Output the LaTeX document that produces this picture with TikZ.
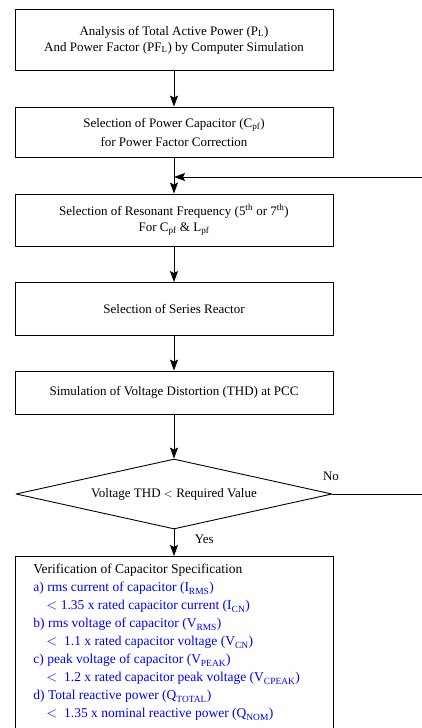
\documentclass[tikz,border=0pt]{standalone}
\usepackage{fontspec}
\setmainfont{Liberation Serif}
\usetikzlibrary{shapes.geometric,arrows.meta}
\tikzset{
  procbox/.style={draw, minimum width=318, inner sep=0pt, align=center},
  decision/.style={draw, diamond, aspect=4.5, minimum width=316, minimum height=70, inner sep=0pt},
}
\begin{document}
\begin{tikzpicture}[x=1pt, y=-1pt, font=\fontsize{13}{16}\selectfont, line join=round, line width=0.9pt, >={Stealth[length=11pt,width=8pt,inset=2pt]}]
	\useasboundingbox (0,0) rectangle (422,728);
	% Các khối chính
	\node[procbox, minimum height=61] (analysis) at (174,40) {Analysis of Total Active Power (P\textsubscript{L})\\And Power Factor (PF\textsubscript{L}) by Computer Simulation};
	\node[procbox, minimum height=50] (capacitor) at (174,132) {Selection of Power Capacitor (C\textsubscript{pf})\\[3pt]for Power Factor Correction};
	\node[procbox, minimum height=52] (resonant) at (174,220) {Selection of Resonant Frequency (5\textsuperscript{th} or 7\textsuperscript{th})\\For C\textsubscript{pf} \& L\textsubscript{pf}};
	\node[procbox, minimum height=53] (reactor) at (174,309) {Selection of Series Reactor};
	\node[procbox, minimum height=43] (thd) at (174,392.5) {Simulation of Voltage Distortion (THD) at PCC};
	\node[decision] (check) at (174,494) {Voltage THD $<$ Required Value};
	\node[procbox, anchor=north, minimum height=200] (verif) at (174,556) {};
	\node[anchor=north west, align=left, inner sep=0pt, font=\fontsize{13.5}{18}\selectfont] (spec) at (33,564) {Verification of Capacitor Specification\\
		\color{blue}a) rms current of capacitor (I\textsubscript{RMS})\\
		\color{blue}\hspace*{13pt}$<$ 1.35 x rated capacitor current (I\textsubscript{CN})\\
		\color{blue}b) rms voltage of capacitor (V\textsubscript{RMS})\\
		\color{blue}\hspace*{13pt}$<$\ \ 1.1 x rated capacitor voltage (V\textsubscript{CN})\\
		\color{blue}c) peak voltage of capacitor (V\textsubscript{PEAK})\\
		\color{blue}\hspace*{13pt}$<$\ \ 1.2 x rated capacitor peak voltage (V\textsubscript{CPEAK})\\
		\color{blue}d) Total reactive power (Q\textsubscript{TOTAL})\\
		\color{blue}\hspace*{13pt}$<$\ \ 1.35 x nominal reactive power (Q\textsubscript{NOM})};
	% Mũi tên
	\draw[->] (analysis) -- (capacitor);
	\draw[->] (capacitor) -- (resonant);
	\draw[->] (resonant) -- (reactor);
	\draw[->] (reactor) -- (thd);
	\draw[->] (thd) -- (check);
	\draw[->] (check) -- node[right, xshift=17pt, yshift=3pt]{Yes} (verif);
	% Nhánh No quay lại
	\coordinate (back) at (174,177);
	\draw[->] (check.east) -- (445,494) -- (445,177) -- (back);
	\node (no) at (331,476) {No};
\end{tikzpicture}
\end{document}
